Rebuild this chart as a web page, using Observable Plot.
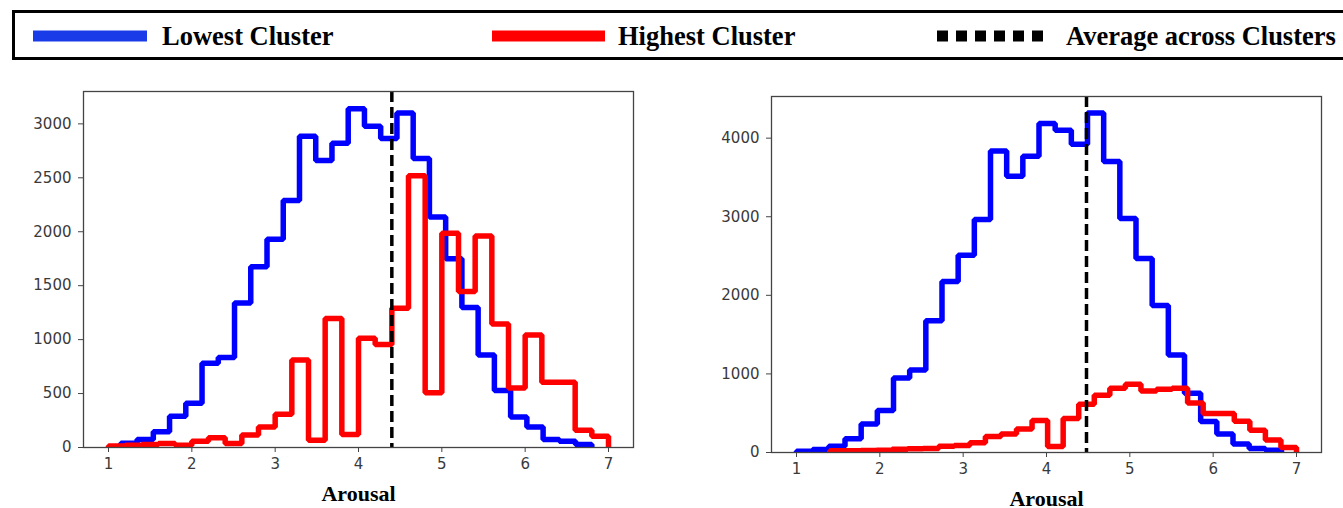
<!DOCTYPE html>
<html>
<head>
<meta charset="utf-8">
<script src="https://cdn.jsdelivr.net/npm/d3@7"></script>
<script src="https://cdn.jsdelivr.net/npm/@observablehq/plot@0.6"></script>
<style>
  html, body { margin: 0; padding: 0; background: #fff; width: 1343px; height: 508px; overflow: hidden; }
  #root { position: relative; width: 1343px; height: 508px; }
  .panel { position: absolute; }
  #legend { position: absolute; left: 0; top: 0; }
</style>
</head>
<body>
<div id="root"></div>
<script>
// ---------- data ----------
const legendLabels = ["Lowest Cluster", "Highest Cluster", "Average across Clusters"];
const xTicks = [1, 2, 3, 4, 5, 6, 7];
const xLabel = "Arousal";

// left panel
const leftYTicks = [0, 500, 1000, 1500, 2000, 2500, 3000];
const leftBlueRange = [1.148, 6.80];
const leftBlueCounts = [40, 75, 145, 290, 410, 780, 835, 1340, 1675, 1930, 2290, 2885, 2660, 2820, 3140,
  2978, 2864, 3100, 2679, 2136, 1750, 1298, 858, 529, 283, 191, 74, 58, 28];
const leftRedRange = [1.0, 7.0];
const leftRedCounts = [15, 20, 28, 37, 20, 58, 90, 37, 115, 190, 308, 812, 68, 1195, 120,
  1012, 954, 1290, 2520, 508, 1985, 1446, 1960, 1145, 551, 1043, 606, 606, 160, 105];
const leftMean = 4.40;

// right panel
const rightYTicks = [0, 1000, 2000, 3000, 4000];
const rightBlueRange = [1.0, 6.82];
const rightBlueCounts = [17, 38, 80, 174, 364, 534, 949, 1050, 1678, 2175, 2510, 2966, 3838, 3515, 3770,
  4185, 4100, 3923, 4319, 3702, 2979, 2468, 1870, 1240, 755, 395, 235, 108, 50, 30];
const rightRedRange = [1.4, 7.0];
const rightRedCounts = [21, 21, 25, 30, 42, 47, 51, 80, 89, 123, 203, 237, 300, 407, 76,
  432, 614, 729, 818, 869, 784, 805, 818, 630, 495, 495, 398, 284, 160, 64];
const rightMean = 4.48;

// ---------- helpers ----------
function stepPoints(range, counts) {
  const [lo, hi] = range;
  const n = counts.length, w = (hi - lo) / n;
  const pts = [{x: lo, y: 0}];
  counts.forEach((c, i) => {
    pts.push({x: lo + i * w, y: c});
    pts.push({x: lo + (i + 1) * w, y: c});
  });
  pts.push({x: hi, y: 0});
  return pts;
}

const BLUE = "#0000ff", RED = "#ff0000";
const plain = d => String(d);

function panel(opts) {
  return Plot.plot({
    width: 660,
    height: 437,
    marginLeft: 83,
    marginRight: 27,
    marginTop: 21,
    marginBottom: 60,
    style: {fontFamily: "'DejaVu Sans', sans-serif", fontSize: "15px", color: "#3a3a3a", background: "transparent", overflow: "visible"},
    x: {domain: [0.7, 7.3]},
    y: {domain: [0, opts.yMax]},
    marks: [
      Plot.line(stepPoints(opts.blueRange, opts.blueCounts), {x: "x", y: "y", stroke: BLUE, strokeWidth: 5.5, strokeLinejoin: "miter", clip: true}),
      Plot.line(stepPoints(opts.redRange, opts.redCounts), {x: "x", y: "y", stroke: RED, strokeWidth: 5.5, strokeLinejoin: "miter", clip: true}),
      Plot.ruleX([opts.mean], {stroke: "#000", strokeWidth: 3.5, strokeDasharray: "11,5"}),
      Plot.frame({stroke: "#444", strokeWidth: 1.3}),
      Plot.axisY({ticks: opts.yTicks, tickFormat: plain, tickSize: 5, tickPadding: 7, label: null, stroke: "#444"}),
      Plot.axisX({ticks: xTicks, tickFormat: plain, tickSize: 5, tickPadding: 6, label: null, stroke: "#444"}),
      Plot.text([xLabel], {frameAnchor: "bottom", dy: 53, fontFamily: "'Liberation Serif', serif", fontWeight: "bold", fontSize: 22, fill: "#000"})
    ]
  });
}

const root = document.getElementById("root");

const left = panel({yMax: 3300, yTicks: leftYTicks, blueRange: leftBlueRange, blueCounts: leftBlueCounts,
  redRange: leftRedRange, redCounts: leftRedCounts, mean: leftMean});
left.classList.add("panel");
left.style.left = "0px";
left.style.top = "70px";
root.appendChild(left);

const right = panel({yMax: 4530, yTicks: rightYTicks, blueRange: rightBlueRange, blueCounts: rightBlueCounts,
  redRange: rightRedRange, redCounts: rightRedCounts, mean: rightMean});
right.classList.add("panel");
right.style.left = "688px";
right.style.top = "75px";
root.appendChild(right);

// ---------- legend ----------
const lg = d3.select(root).append("svg").attr("id", "legend").attr("width", 1343).attr("height", 66);
lg.append("rect").attr("x", 13.5).attr("y", 11.5).attr("width", 1400).attr("height", 47)
  .attr("fill", "none").attr("stroke", "#000").attr("stroke-width", 3);
const items = [
  {x1: 33, x2: 147, tx: 162, stroke: "#1a3ce8", dash: null},
  {x1: 492, x2: 605, tx: 618, stroke: RED, dash: null},
  {x1: 937, x2: 1044, tx: 1066, stroke: "#000", dash: "11,8"}
];
items.forEach((it, i) => {
  const l = lg.append("line").attr("x1", it.x1).attr("x2", it.x2).attr("y1", 36).attr("y2", 36)
    .attr("stroke", it.stroke).attr("stroke-width", 11);
  if (it.dash) l.attr("stroke-dasharray", it.dash);
  lg.append("text").attr("x", it.tx).attr("y", 45)
    .attr("font-family", "'Liberation Serif', serif").attr("font-weight", "bold").attr("font-size", 26.5)
    .attr("fill", "#000").text(legendLabels[i]);
});
</script>
</body>
</html>
